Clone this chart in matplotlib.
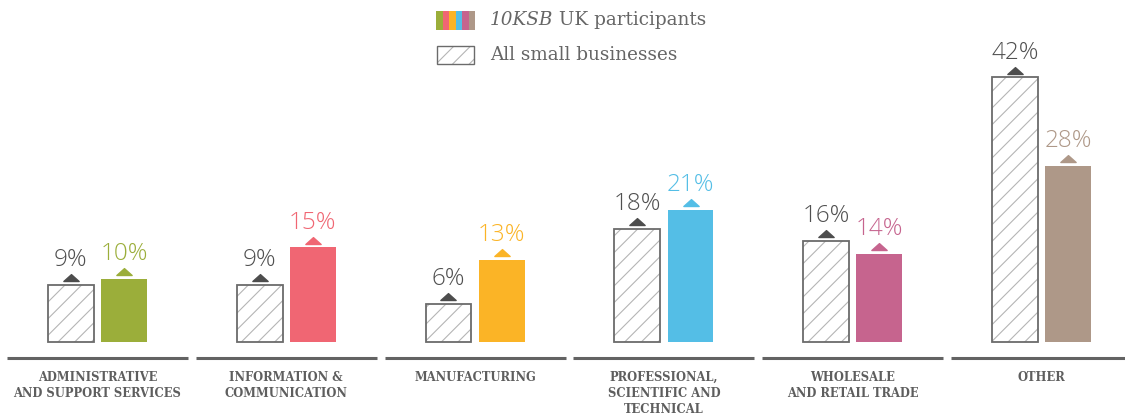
import matplotlib.pyplot as plt
import numpy as np
from matplotlib.path import Path
from matplotlib.patches import Rectangle

plt.rcParams['hatch.linewidth'] = 0.8

categories = ["ADMINISTRATIVE\nAND SUPPORT SERVICES", "INFORMATION &\nCOMMUNICATION",
              "MANUFACTURING", "PROFESSIONAL,\nSCIENTIFIC AND\nTECHNICAL",
              "WHOLESALE\nAND RETAIL TRADE", "OTHER"]
all_small = [9, 9, 6, 18, 16, 42]
ksb = [10, 15, 13, 21, 14, 28]
ksb_colors = ['#9bae3a', '#f06673', '#fbb426', '#54bee6', '#c6648e', '#ae9888']

grey = '#505050'
hatch_grey = '#b5b5b5'
x = np.arange(len(categories))
w = 0.243
off = 0.141

fig = plt.figure(figsize=(11.25, 4.15), dpi=100)
ax = fig.add_axes([0, 0, 1, 1])
ax.set_xlim(-0.516, 5.442)
ax.set_ylim(-11.6, 54.3)
ax.axis('off')

# hatched bars: hatch first (no edge), then the outline on top
ax.bar(x - off, all_small, w, color='white', edgecolor=hatch_grey, hatch='//', linewidth=0)
ax.bar(x - off, all_small, w, fill=False, edgecolor='#6b6b6b', linewidth=1.3)
ax.bar(x + off, ksb, w, color=ksb_colors, linewidth=0)

# small flat triangle marker
tri = Path([(-1, 0), (1, 0), (0, 0.9), (-1, 0)],
           [Path.MOVETO, Path.LINETO, Path.LINETO, Path.CLOSEPOLY])

num_font = dict(fontsize=17.5, family='Open Sans', weight='light')
for i in range(len(categories)):
    ax.plot(x[i] - off, all_small[i] + 0.6, marker=tri, markersize=11,
            color='#4d4d4d', linestyle='none')
    ax.text(x[i] - off, all_small[i] + 3.0, f"{all_small[i]}%", ha='center',
            va='baseline', color=grey, **num_font)
    ax.plot(x[i] + off, ksb[i] + 0.6, marker=tri, markersize=11,
            color=ksb_colors[i], linestyle='none')
    ax.text(x[i] + off, ksb[i] + 3.0, f"{ksb[i]}%", ha='center',
            va='baseline', color=ksb_colors[i], **num_font)
    ax.hlines(-2.55, x[i] - 0.479, x[i] + 0.479, color='#636363', linewidth=2.2)
    ax.text(x[i], -4.6, categories[i], ha='center', va='top', fontsize=8.3,
            color='#5e5e5e', family='DejaVu Serif', weight='bold',
            linespacing=1.3)

# legend
W, H = 1125, 415
for k, c in enumerate(ksb_colors):
    ax.add_patch(Rectangle(((436 + k * 6.5) / W, 1 - 30 / H), 6.5 / W, 19 / H,
                           transform=ax.transAxes, color=c, lw=0))
ax.add_patch(Rectangle((437 / W, 1 - 64 / H), 37 / W, 18 / H, transform=ax.transAxes,
                       facecolor='white', edgecolor=hatch_grey, hatch='//', lw=0))
ax.add_patch(Rectangle((437 / W, 1 - 64 / H), 37 / W, 18 / H, transform=ax.transAxes,
                       fill=False, edgecolor='#6b6b6b', lw=1.0))

leg_font = dict(fontsize=13.2, color='#666666', family='DejaVu Serif')
t = ax.text(490 / W, 1 - 20 / H, "10KSB", transform=ax.transAxes, va='center',
            style='italic', **leg_font)
ax.annotate(" UK participants", xy=(1, 0), xycoords=t, va='bottom', **leg_font)
ax.text(490 / W, 1 - 55 / H, "All small businesses", transform=ax.transAxes,
        va='center', **leg_font)

plt.savefig('out.png', dpi=100)
